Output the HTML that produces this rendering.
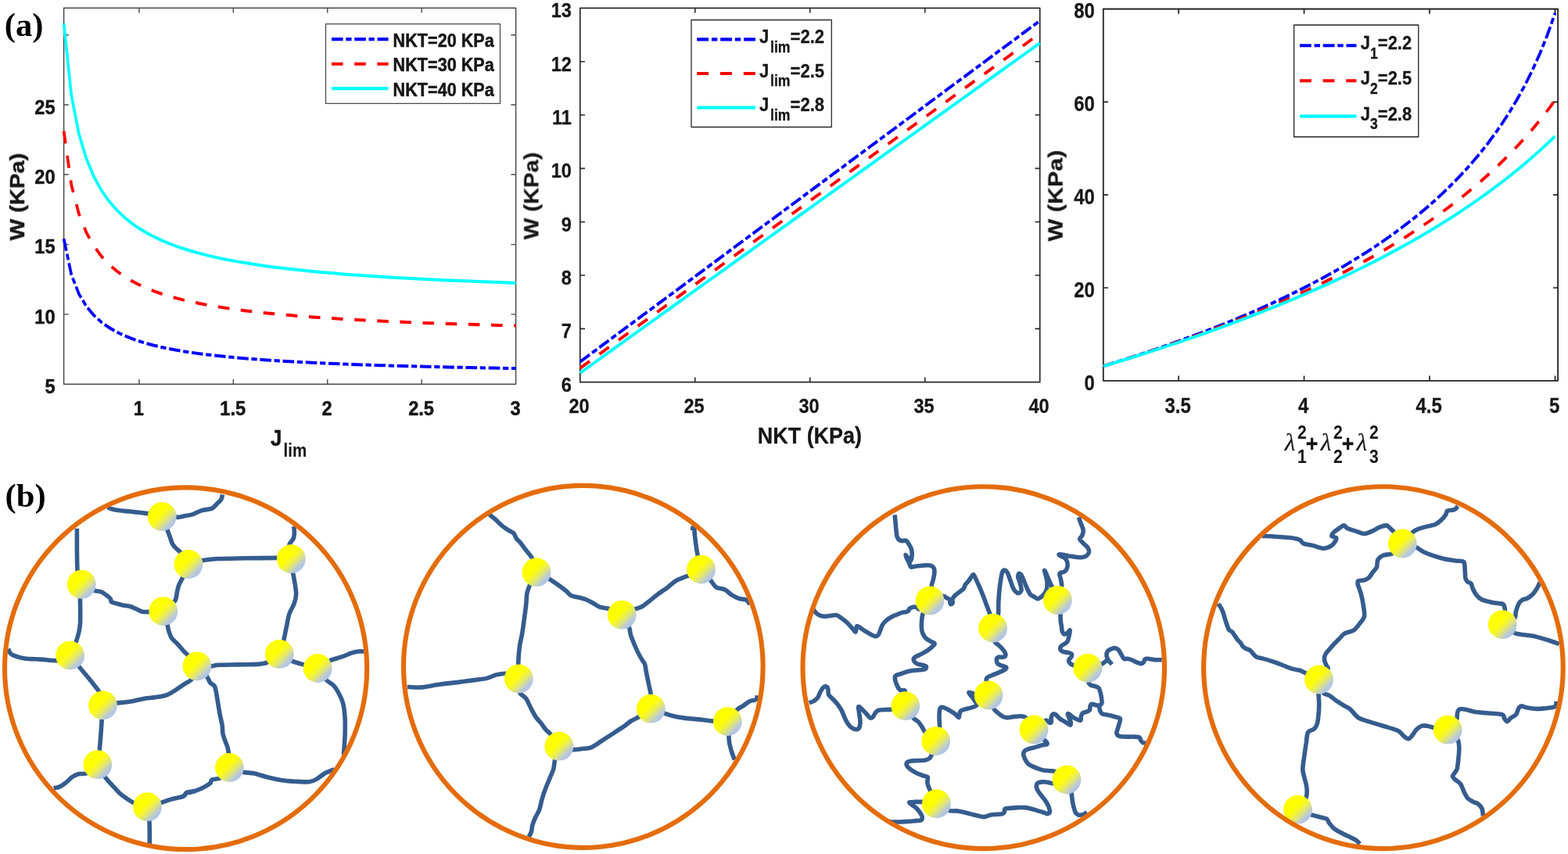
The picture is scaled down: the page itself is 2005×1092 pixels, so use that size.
<!DOCTYPE html>
<html lang="en">
<head>
<meta charset="utf-8">
<title>Gent model strain energy and polymer network schematic</title>
<style>
html,body{margin:0;padding:0;background:#fff;}
body{width:2005px;height:1092px;overflow:hidden;}
svg{display:block;}
</style>
</head>
<body>
<svg width="2005" height="1092" viewBox="0 0 2005 1092">
<defs>
<filter id="soft" x="0" y="0" width="2005" height="1092" filterUnits="userSpaceOnUse" color-interpolation-filters="sRGB"><feGaussianBlur stdDeviation="0.55"/></filter>
<linearGradient id="ball" x1="0" y1="0" x2="1" y2="1">
<stop offset="0" stop-color="#ffff00"/>
<stop offset="0.41" stop-color="#ffff00"/>
<stop offset="0.53" stop-color="#f3f435"/>
<stop offset="0.64" stop-color="#dde280"/>
<stop offset="0.75" stop-color="#bccbd4"/>
<stop offset="0.84" stop-color="#adc2e8"/>
<stop offset="1" stop-color="#a8c0ec"/>
</linearGradient>
</defs>
<rect width="2005" height="1092" fill="#fff"/>
<g filter="url(#soft)">
<g id="plots" font-family='"Liberation Sans", Arial, Helvetica, sans-serif' font-weight="bold" fill="#161616" stroke="#161616" stroke-width="0.5" stroke-linejoin="round">
<g stroke-width="0.5">
<rect x="81.6" y="10.2" width="578" height="481" fill="none" stroke="#4a4a4a" stroke-width="1.5"/>
<path d="M177.93 491.2v-6.2 M177.93 10.2v6.2 M298.35 491.2v-6.2 M298.35 10.2v6.2 M418.77 491.2v-6.2 M418.77 10.2v6.2 M539.18 491.2v-6.2 M539.18 10.2v6.2 M81.6 401.9h6.2 M659.6 401.9h-6.2 M81.6 312.6h6.2 M659.6 312.6h-6.2 M81.6 223.3h6.2 M659.6 223.3h-6.2 M81.6 134h6.2 M659.6 134h-6.2 M81.6 44.7h6.2 M659.6 44.7h-6.2" stroke="#4a4a4a" stroke-width="1.4" fill="none"/>
<text transform="translate(177.33 530.8) scale(0.89 1)" font-size="26.59" text-anchor="middle">1</text>
<text transform="translate(297.75 530.8) scale(0.89 1)" font-size="26.59" text-anchor="middle">1.5</text>
<text transform="translate(418.17 530.8) scale(0.89 1)" font-size="26.59" text-anchor="middle">2</text>
<text transform="translate(538.58 530.8) scale(0.89 1)" font-size="26.59" text-anchor="middle">2.5</text>
<text transform="translate(659 530.8) scale(0.89 1)" font-size="26.59" text-anchor="middle">3</text>
<text transform="translate(70.6 503) scale(0.89 1)" font-size="26.59" text-anchor="end">5</text>
<text transform="translate(70.6 413.7) scale(0.89 1)" font-size="26.59" text-anchor="end">10</text>
<text transform="translate(70.6 324.4) scale(0.89 1)" font-size="26.59" text-anchor="end">15</text>
<text transform="translate(70.6 235.1) scale(0.89 1)" font-size="26.59" text-anchor="end">20</text>
<text transform="translate(70.6 145.8) scale(0.89 1)" font-size="26.59" text-anchor="end">25</text>
<clipPath id="clip81"><rect x="78.6" y="7.2" width="584" height="487"/></clipPath>
<g clip-path="url(#clip81)" fill="none" stroke-width="4.1">
<path transform="scale(0.9 0.98)" d="M90.67 311.51 L101.37 358.24 L112.07 383.43 L122.78 399.82 L133.48 411.54 L144.19 420.41 L154.89 427.41 L165.59 433.09 L176.3 437.8 L187 441.78 L197.7 445.2 L208.41 448.16 L219.11 450.75 L229.81 453.04 L240.52 455.08 L251.22 456.91 L261.93 458.57 L272.63 460.07 L283.33 461.43 L294.04 462.68 L304.74 463.83 L315.44 464.89 L326.15 465.87 L336.85 466.78 L347.56 467.62 L358.26 468.41 L368.96 469.15 L379.67 469.84 L390.37 470.49 L401.07 471.1 L411.78 471.68 L422.48 472.22 L433.19 472.74 L443.89 473.22 L454.59 473.69 L465.3 474.13 L476 474.54 L486.7 474.94 L497.41 475.32 L508.11 475.68 L518.81 476.03 L529.52 476.36 L540.22 476.68 L550.93 476.98 L561.63 477.28 L572.33 477.56 L583.04 477.82 L593.74 478.08 L604.44 478.33 L615.15 478.57 L625.85 478.8 L636.56 479.03 L647.26 479.24 L657.96 479.45 L668.67 479.65 L679.37 479.84 L690.07 480.03 L700.78 480.21 L711.48 480.39 L722.19 480.56 L732.89 480.73" stroke="#0000ff" stroke-dasharray="16.2 4.1 8.1 4.1"/>
<path transform="scale(0.9 0.98)" d="M90.67 171.1 L101.37 241.19 L112.07 278.97 L122.78 303.55 L133.48 321.13 L144.19 334.45 L154.89 344.94 L165.59 353.46 L176.3 360.53 L187 366.5 L197.7 371.62 L208.41 376.06 L219.11 379.95 L229.81 383.39 L240.52 386.45 L251.22 389.2 L261.93 391.68 L272.63 393.92 L283.33 395.97 L294.04 397.85 L304.74 399.57 L315.44 401.16 L326.15 402.63 L336.85 403.99 L347.56 405.26 L358.26 406.44 L368.96 407.55 L379.67 408.59 L390.37 409.56 L401.07 410.48 L411.78 411.34 L422.48 412.16 L433.19 412.93 L443.89 413.66 L454.59 414.36 L465.3 415.02 L476 415.64 L486.7 416.24 L497.41 416.81 L508.11 417.35 L518.81 417.87 L529.52 418.37 L540.22 418.85 L550.93 419.3 L561.63 419.74 L572.33 420.16 L583.04 420.56 L593.74 420.95 L604.44 421.33 L615.15 421.69 L625.85 422.03 L636.56 422.37 L647.26 422.69 L657.96 423 L668.67 423.3 L679.37 423.59 L690.07 423.88 L700.78 424.15 L711.48 424.41 L722.19 424.67 L732.89 424.92" stroke="#ff0000" stroke-dasharray="16.2 16.2"/>
<path transform="scale(0.9 0.98)" d="M90.67 30.68 L101.37 124.14 L112.07 174.51 L122.78 207.29 L133.48 230.72 L144.19 248.48 L154.89 262.47 L165.59 273.83 L176.3 283.26 L187 291.22 L197.7 298.04 L208.41 303.96 L219.11 309.15 L229.81 313.74 L240.52 317.82 L251.22 321.48 L261.93 324.79 L272.63 327.78 L283.33 330.52 L294.04 333.02 L304.74 335.31 L315.44 337.43 L326.15 339.39 L336.85 341.21 L347.56 342.9 L358.26 344.48 L368.96 345.95 L379.67 347.33 L390.37 348.63 L401.07 349.86 L411.78 351.01 L422.48 352.1 L433.19 353.13 L443.89 354.1 L454.59 355.03 L465.3 355.91 L476 356.74 L486.7 357.54 L497.41 358.3 L508.11 359.02 L518.81 359.71 L529.52 360.38 L540.22 361.01 L550.93 361.62 L561.63 362.2 L572.33 362.76 L583.04 363.3 L593.74 363.82 L604.44 364.32 L615.15 364.8 L625.85 365.26 L636.56 365.71 L647.26 366.14 L657.96 366.55 L668.67 366.95 L679.37 367.34 L690.07 367.72 L700.78 368.08 L711.48 368.43 L722.19 368.78 L732.89 369.11" stroke="#00ffff"/>
</g>
<text transform="translate(31 251.7) scale(0.89 1) rotate(-90)" font-size="29.16" text-anchor="middle">W (KPa)</text>
<text transform="translate(346 570.2) scale(0.89 1)" font-size="29.16" text-anchor="start">J<tspan dx="2.4" dy="14.2" font-size="23" stroke-width="0.1">lim</tspan></text>
<rect x="416.5" y="30.6" width="223" height="101.7" fill="#fff" stroke="#4a4a4a" stroke-width="1.3"/>
<path transform="scale(0.9 1)" d="M471.11 50.1H551.78" stroke="#0000ff" stroke-width="4.1" fill="none" stroke-dasharray="16.2 4.1 8.1 4.1"/>
<text transform="translate(502.6 59.9) scale(0.8901 1)" font-size="24.3" text-anchor="start">NKT=20 KPa</text>
<path transform="scale(0.9 1)" d="M471.11 81.7H551.78" stroke="#ff0000" stroke-width="4.1" fill="none" stroke-dasharray="16.2 16.2"/>
<text transform="translate(502.6 91.4) scale(0.8901 1)" font-size="24.3" text-anchor="start">NKT=30 KPa</text>
<path transform="scale(0.9 1)" d="M471.11 113.1H551.78" stroke="#00ffff" stroke-width="4.1" fill="none"/>
<text transform="translate(502.6 123.2) scale(0.8901 1)" font-size="24.3" text-anchor="start">NKT=40 KPa</text>
</g>
<g stroke-width="0.3">
<rect x="741.8" y="10.4" width="587.9" height="478.3" fill="none" stroke="#2a2a2a" stroke-width="1.7"/>
<path d="M888.77 488.7v-6.2 M888.77 10.4v6.2 M1035.75 488.7v-6.2 M1035.75 10.4v6.2 M1182.72 488.7v-6.2 M1182.72 10.4v6.2 M741.8 420.37h6.2 M1329.7 420.37h-6.2 M741.8 352.04h6.2 M1329.7 352.04h-6.2 M741.8 283.71h6.2 M1329.7 283.71h-6.2 M741.8 215.39h6.2 M1329.7 215.39h-6.2 M741.8 147.06h6.2 M1329.7 147.06h-6.2 M741.8 78.73h6.2 M1329.7 78.73h-6.2" stroke="#2a2a2a" stroke-width="1.6" fill="none"/>
<text transform="translate(740.6 528.3) scale(0.885 1)" font-size="26.59" text-anchor="middle">20</text>
<text transform="translate(887.57 528.3) scale(0.885 1)" font-size="26.59" text-anchor="middle">25</text>
<text transform="translate(1034.55 528.3) scale(0.885 1)" font-size="26.59" text-anchor="middle">30</text>
<text transform="translate(1181.52 528.3) scale(0.885 1)" font-size="26.59" text-anchor="middle">35</text>
<text transform="translate(1328.5 528.3) scale(0.885 1)" font-size="26.59" text-anchor="middle">40</text>
<text transform="translate(730.8 500.5) scale(0.885 1)" font-size="26.59" text-anchor="end">6</text>
<text transform="translate(730.8 432.17) scale(0.885 1)" font-size="26.59" text-anchor="end">7</text>
<text transform="translate(730.8 363.84) scale(0.885 1)" font-size="26.59" text-anchor="end">8</text>
<text transform="translate(730.8 295.51) scale(0.885 1)" font-size="26.59" text-anchor="end">9</text>
<text transform="translate(730.8 227.19) scale(0.885 1)" font-size="26.59" text-anchor="end">10</text>
<text transform="translate(730.8 158.86) scale(0.885 1)" font-size="26.59" text-anchor="end">11</text>
<text transform="translate(730.8 90.53) scale(0.885 1)" font-size="26.59" text-anchor="end">12</text>
<text transform="translate(730.8 22.2) scale(0.885 1)" font-size="26.59" text-anchor="end">13</text>
<clipPath id="clip741"><rect x="738.8" y="7.4" width="593.9" height="484.3"/></clipPath>
<g clip-path="url(#clip741)" fill="none" stroke-width="4.1">
<path transform="scale(0.92 0.98)" d="M806.3 472.01 L816.95 464.59 L827.61 457.18 L838.26 449.76 L848.91 442.34 L859.56 434.93 L870.21 427.51 L880.86 420.09 L891.51 412.68 L902.16 405.26 L912.81 397.84 L923.46 390.43 L934.11 383.01 L944.76 375.59 L955.41 368.18 L966.06 360.76 L976.71 353.34 L987.36 345.93 L998.01 338.51 L1008.66 331.09 L1019.31 323.68 L1029.96 316.26 L1040.61 308.84 L1051.26 301.43 L1061.91 294.01 L1072.56 286.59 L1083.21 279.18 L1093.86 271.76 L1104.51 264.34 L1115.16 256.93 L1125.82 249.51 L1136.47 242.09 L1147.12 234.68 L1157.77 227.26 L1168.42 219.84 L1179.07 212.43 L1189.72 205.01 L1200.37 197.59 L1211.02 190.18 L1221.67 182.76 L1232.32 175.34 L1242.97 167.93 L1253.62 160.51 L1264.27 153.09 L1274.92 145.68 L1285.57 138.26 L1296.22 130.84 L1306.87 123.43 L1317.52 116.01 L1328.17 108.59 L1338.82 101.18 L1349.47 93.76 L1360.12 86.34 L1370.77 78.93 L1381.42 71.51 L1392.07 64.09 L1402.72 56.68 L1413.38 49.26 L1424.03 41.84 L1434.68 34.43 L1445.33 27.01" stroke="#0000ff" stroke-dasharray="16.2 4.1 8.1 4.1"/>
<path transform="scale(0.92 0.98)" d="M806.3 480.35 L816.95 473.07 L827.61 465.79 L838.26 458.51 L848.91 451.23 L859.56 443.96 L870.21 436.68 L880.86 429.4 L891.51 422.12 L902.16 414.85 L912.81 407.57 L923.46 400.29 L934.11 393.01 L944.76 385.73 L955.41 378.46 L966.06 371.18 L976.71 363.9 L987.36 356.62 L998.01 349.35 L1008.66 342.07 L1019.31 334.79 L1029.96 327.51 L1040.61 320.23 L1051.26 312.96 L1061.91 305.68 L1072.56 298.4 L1083.21 291.12 L1093.86 283.85 L1104.51 276.57 L1115.16 269.29 L1125.82 262.01 L1136.47 254.73 L1147.12 247.46 L1157.77 240.18 L1168.42 232.9 L1179.07 225.62 L1189.72 218.35 L1200.37 211.07 L1211.02 203.79 L1221.67 196.51 L1232.32 189.23 L1242.97 181.96 L1253.62 174.68 L1264.27 167.4 L1274.92 160.12 L1285.57 152.85 L1296.22 145.57 L1306.87 138.29 L1317.52 131.01 L1328.17 123.73 L1338.82 116.46 L1349.47 109.18 L1360.12 101.9 L1370.77 94.62 L1381.42 87.35 L1392.07 80.07 L1402.72 72.79 L1413.38 65.51 L1424.03 58.23 L1434.68 50.96 L1445.33 43.68" stroke="#ff0000" stroke-dasharray="16.2 16.2"/>
<path transform="scale(0.92 0.98)" d="M806.3 486.6 L816.95 479.43 L827.61 472.26 L838.26 465.08 L848.91 457.91 L859.56 450.74 L870.21 443.56 L880.86 436.39 L891.51 429.22 L902.16 422.04 L912.81 414.87 L923.46 407.69 L934.11 400.52 L944.76 393.35 L955.41 386.17 L966.06 379 L976.71 371.83 L987.36 364.65 L998.01 357.48 L1008.66 350.31 L1019.31 343.13 L1029.96 335.96 L1040.61 328.79 L1051.26 321.61 L1061.91 314.44 L1072.56 307.27 L1083.21 300.09 L1093.86 292.92 L1104.51 285.75 L1115.16 278.57 L1125.82 271.4 L1136.47 264.23 L1147.12 257.05 L1157.77 249.88 L1168.42 242.7 L1179.07 235.53 L1189.72 228.36 L1200.37 221.18 L1211.02 214.01 L1221.67 206.84 L1232.32 199.66 L1242.97 192.49 L1253.62 185.32 L1264.27 178.14 L1274.92 170.97 L1285.57 163.8 L1296.22 156.62 L1306.87 149.45 L1317.52 142.28 L1328.17 135.1 L1338.82 127.93 L1349.47 120.76 L1360.12 113.58 L1370.77 106.41 L1381.42 99.24 L1392.07 92.06 L1402.72 84.89 L1413.38 77.71 L1424.03 70.54 L1434.68 63.37 L1445.33 56.19" stroke="#00ffff"/>
</g>
<text transform="translate(688.2 250.55) scale(0.885 1) rotate(-90)" font-size="29.16" text-anchor="middle">W (KPa)</text>
<text transform="translate(1035.4 566.5) scale(0.9099 1)" font-size="29.6" text-anchor="middle">NKT (KPa)</text>
<rect x="884" y="25.5" width="179.3" height="137" fill="#fff" stroke="#2a2a2a" stroke-width="1.3"/>
<path transform="scale(0.92 1)" d="M968.7 50.4H1050" stroke="#0000ff" stroke-width="4.1" fill="none" stroke-dasharray="16.2 4.1 8.1 4.1"/>
<text transform="translate(971 55) scale(0.9099 1)" font-size="24.3" text-anchor="start">J<tspan dx="1.9" dy="11.8" font-size="19.4">lim</tspan><tspan dy="-11.8">=2.2</tspan></text>
<path transform="scale(0.92 1)" d="M968.7 94H1050" stroke="#ff0000" stroke-width="4.1" fill="none" stroke-dasharray="16.2 16.2"/>
<text transform="translate(971 98.5) scale(0.9099 1)" font-size="24.3" text-anchor="start">J<tspan dx="1.9" dy="11.8" font-size="19.4">lim</tspan><tspan dy="-11.8">=2.5</tspan></text>
<path transform="scale(0.92 1)" d="M968.7 137.6H1050" stroke="#00ffff" stroke-width="4.1" fill="none"/>
<text transform="translate(971 142) scale(0.9099 1)" font-size="24.3" text-anchor="start">J<tspan dx="1.9" dy="11.8" font-size="19.4">lim</tspan><tspan dy="-11.8">=2.8</tspan></text>
</g>
<g stroke-width="0.3">
<rect x="1410.8" y="11.5" width="581.3" height="475.3" fill="none" stroke="#222222" stroke-width="1.8"/>
<path d="M1507.08 486.8v-6.2 M1507.08 11.5v6.2 M1667.55 486.8v-6.2 M1667.55 11.5v6.2 M1828.03 486.8v-6.2 M1828.03 11.5v6.2 M1988.5 486.8v-6.2 M1988.5 11.5v6.2 M1410.8 367.98h6.2 M1992.1 367.98h-6.2 M1410.8 249.15h6.2 M1992.1 249.15h-6.2 M1410.8 130.32h6.2 M1992.1 130.32h-6.2" stroke="#222222" stroke-width="1.7" fill="none"/>
<text transform="translate(1506.18 528) scale(0.86 1)" font-size="27.81" text-anchor="middle">3.5</text>
<text transform="translate(1666.65 528) scale(0.86 1)" font-size="27.81" text-anchor="middle">4</text>
<text transform="translate(1827.13 528) scale(0.86 1)" font-size="27.81" text-anchor="middle">4.5</text>
<text transform="translate(1987.6 528) scale(0.86 1)" font-size="27.81" text-anchor="middle">5</text>
<text transform="translate(1399.8 498.6) scale(0.86 1)" font-size="27.81" text-anchor="end">0</text>
<text transform="translate(1399.8 379.78) scale(0.86 1)" font-size="27.81" text-anchor="end">20</text>
<text transform="translate(1399.8 260.95) scale(0.86 1)" font-size="27.81" text-anchor="end">40</text>
<text transform="translate(1399.8 142.12) scale(0.86 1)" font-size="27.81" text-anchor="end">60</text>
<text transform="translate(1399.8 23.3) scale(0.86 1)" font-size="27.81" text-anchor="end">80</text>
<clipPath id="clip1410"><rect x="1407.8" y="8.5" width="587.3" height="481.3"/></clipPath>
<g clip-path="url(#clip1410)" fill="none" stroke-width="4.1">
<path transform="scale(0.915 0.98)" d="M1541.86 477.67 L1552.38 474.64 L1562.9 471.57 L1573.43 468.46 L1583.95 465.29 L1594.47 462.07 L1604.99 458.8 L1615.52 455.47 L1626.04 452.09 L1636.56 448.65 L1647.09 445.15 L1657.61 441.59 L1668.13 437.96 L1678.65 434.27 L1689.18 430.51 L1699.7 426.67 L1710.22 422.76 L1720.74 418.77 L1731.27 414.7 L1741.79 410.55 L1752.31 406.31 L1762.84 401.98 L1773.36 397.55 L1783.88 393.02 L1794.4 388.38 L1804.93 383.64 L1815.45 378.78 L1825.97 373.8 L1836.49 368.69 L1847.02 363.45 L1857.54 358.06 L1868.06 352.53 L1878.59 346.84 L1889.11 340.98 L1899.63 334.95 L1910.15 328.73 L1920.68 322.31 L1931.2 315.68 L1941.72 308.82 L1952.24 301.72 L1962.77 294.35 L1973.29 286.7 L1983.81 278.75 L1994.34 270.47 L2004.86 261.84 L2015.38 252.81 L2025.9 243.36 L2036.43 233.43 L2046.95 222.99 L2057.47 211.98 L2067.99 200.32 L2078.52 187.94 L2089.04 174.75 L2099.56 160.62 L2110.09 145.42 L2120.61 128.96 L2131.13 111.04 L2141.65 91.34 L2152.18 69.5 L2162.7 44.97 L2173.22 17.01" stroke="#0000ff" stroke-dasharray="16.2 4.1 8.1 4.1"/>
<path transform="scale(0.915 0.98)" d="M1541.86 477.78 L1552.38 474.79 L1562.9 471.77 L1573.43 468.7 L1583.95 465.6 L1594.47 462.45 L1604.99 459.25 L1615.52 456.01 L1626.04 452.72 L1636.56 449.39 L1647.09 446 L1657.61 442.57 L1668.13 439.08 L1678.65 435.54 L1689.18 431.94 L1699.7 428.28 L1710.22 424.56 L1720.74 420.78 L1731.27 416.94 L1741.79 413.03 L1752.31 409.06 L1762.84 405.01 L1773.36 400.89 L1783.88 396.69 L1794.4 392.41 L1804.93 388.06 L1815.45 383.61 L1825.97 379.08 L1836.49 374.46 L1847.02 369.74 L1857.54 364.92 L1868.06 359.99 L1878.59 354.96 L1889.11 349.81 L1899.63 344.54 L1910.15 339.15 L1920.68 333.63 L1931.2 327.97 L1941.72 322.16 L1952.24 316.21 L1962.77 310.09 L1973.29 303.8 L1983.81 297.34 L1994.34 290.68 L2004.86 283.83 L2015.38 276.76 L2025.9 269.47 L2036.43 261.93 L2046.95 254.13 L2057.47 246.06 L2067.99 237.69 L2078.52 229 L2089.04 219.97 L2099.56 210.56 L2110.09 200.74 L2120.61 190.49 L2131.13 179.74 L2141.65 168.47 L2152.18 156.6 L2162.7 144.09 L2173.22 130.84" stroke="#ff0000" stroke-dasharray="16.2 16.2"/>
<path transform="scale(0.915 0.98)" d="M1541.86 477.86 L1552.38 474.91 L1562.9 471.92 L1573.43 468.89 L1583.95 465.83 L1594.47 462.73 L1604.99 459.6 L1615.52 456.42 L1626.04 453.2 L1636.56 449.95 L1647.09 446.65 L1657.61 443.3 L1668.13 439.92 L1678.65 436.48 L1689.18 433 L1699.7 429.48 L1710.22 425.9 L1720.74 422.27 L1731.27 418.59 L1741.79 414.85 L1752.31 411.06 L1762.84 407.21 L1773.36 403.3 L1783.88 399.34 L1794.4 395.31 L1804.93 391.21 L1815.45 387.05 L1825.97 382.81 L1836.49 378.51 L1847.02 374.13 L1857.54 369.68 L1868.06 365.15 L1878.59 360.53 L1889.11 355.83 L1899.63 351.04 L1910.15 346.16 L1920.68 341.18 L1931.2 336.11 L1941.72 330.93 L1952.24 325.64 L1962.77 320.24 L1973.29 314.73 L1983.81 309.09 L1994.34 303.32 L2004.86 297.42 L2015.38 291.39 L2025.9 285.2 L2036.43 278.86 L2046.95 272.36 L2057.47 265.69 L2067.99 258.84 L2078.52 251.8 L2089.04 244.55 L2099.56 237.1 L2110.09 229.42 L2120.61 221.51 L2131.13 213.34 L2141.65 204.9 L2152.18 196.16 L2162.7 187.12 L2173.22 177.75" stroke="#00ffff"/>
</g>
<text transform="translate(1358.5 250.15) scale(0.86 1) rotate(-90)" font-size="30.49" text-anchor="middle">W (KPa)</text>
<text transform="translate(1642.7 576.4) scale(1.02 1)" font-family='"Liberation Serif", "Times New Roman", serif' font-style="italic" font-weight="normal" font-size="31" stroke-width="0.15">λ</text>
<text transform="translate(1659 561.2) scale(0.9049 1)" font-size="23.4" text-anchor="start" stroke-width="0">2</text>
<text transform="translate(1659 592) scale(0.9049 1)" font-size="23.4" text-anchor="start" stroke-width="0">1</text>
<text transform="translate(1669.8 576.6) scale(0.9049 1)" font-size="29.6" text-anchor="start">+</text>
<text transform="translate(1688.7 576.4) scale(1.02 1)" font-family='"Liberation Serif", "Times New Roman", serif' font-style="italic" font-weight="normal" font-size="31" stroke-width="0.15">λ</text>
<text transform="translate(1705 561.2) scale(0.9049 1)" font-size="23.4" text-anchor="start" stroke-width="0">2</text>
<text transform="translate(1705 592) scale(0.9049 1)" font-size="23.4" text-anchor="start" stroke-width="0">2</text>
<text transform="translate(1715.8 576.6) scale(0.9049 1)" font-size="29.6" text-anchor="start">+</text>
<text transform="translate(1734.6 576.4) scale(1.02 1)" font-family='"Liberation Serif", "Times New Roman", serif' font-style="italic" font-weight="normal" font-size="31" stroke-width="0.15">λ</text>
<text transform="translate(1750.9 561.2) scale(0.9049 1)" font-size="23.4" text-anchor="start" stroke-width="0">2</text>
<text transform="translate(1750.9 592) scale(0.9049 1)" font-size="23.4" text-anchor="start" stroke-width="0">3</text>
<rect x="1654.6" y="32" width="159.2" height="143" fill="#fff" stroke="#222222" stroke-width="1.3"/>
<path transform="scale(0.915 1)" d="M1816.39 58.2H1895.63" stroke="#0000ff" stroke-width="4.1" fill="none" stroke-dasharray="16.2 4.1 8.1 4.1"/>
<text transform="translate(1739.8 62.9) scale(0.9049 1)" font-size="24.3" text-anchor="start">J<tspan dy="11.8" font-size="19.4">1</tspan><tspan dy="-11.8">=2.2</tspan></text>
<path transform="scale(0.915 1)" d="M1816.39 103.3H1895.63" stroke="#ff0000" stroke-width="4.1" fill="none" stroke-dasharray="16.2 16.2"/>
<text transform="translate(1739.8 108.2) scale(0.9049 1)" font-size="24.3" text-anchor="start">J<tspan dy="11.8" font-size="19.4">2</tspan><tspan dy="-11.8">=2.5</tspan></text>
<path transform="scale(0.915 1)" d="M1816.39 148.6H1895.63" stroke="#00ffff" stroke-width="4.1" fill="none"/>
<text transform="translate(1739.8 153.5) scale(0.9049 1)" font-size="24.3" text-anchor="start">J<tspan dy="11.8" font-size="19.4">3</tspan><tspan dy="-11.8">=2.8</tspan></text>
</g>
</g>
<g font-family='"Liberation Serif", "Times New Roman", serif' font-weight="bold" font-size="42.6" fill="#000">
<text x="5.8" y="46.4">(a)</text>
<text x="6.6" y="648.4">(b)</text>
</g>
<g id="networks">
<g fill="none" stroke="#355c8e" stroke-width="5.6" stroke-linejoin="round" stroke-linecap="butt">
<path d="M139.6 647.8C139.6 648.1 138.6 649.1 139.6 649.6C140.7 650.2 143.7 651.1 146.4 651.7C149.1 652.2 153.9 652.8 157.7 653.2C161.4 653.7 166.5 654.1 171.2 654.6C175.8 655.1 184.7 656.1 188.7 656.6C192.8 657.2 196.6 658.1 198.0 658.3"/>
<path d="M216.6 660.6C218.3 660.7 225.5 661.4 228.2 661.4C231.0 661.3 232.1 660.6 235.0 660.0C237.9 659.4 244.0 658.4 247.4 657.3C250.8 656.2 254.0 653.9 257.5 652.8C261.1 651.7 268.0 651.4 271.0 650.1C274.1 648.7 276.0 645.5 277.8 643.8C279.5 642.1 281.7 640.5 282.7 638.8C283.8 637.1 284.3 633.5 284.5 632.5"/>
<path d="M210.6 668.8C211.1 670.1 212.9 674.9 214.0 677.6C215.0 680.2 216.5 684.2 217.3 686.6C218.2 688.9 218.8 691.5 219.6 693.3C220.4 695.2 221.3 697.0 223.0 699.0C224.7 700.9 229.0 704.2 230.9 706.4C232.8 708.5 234.9 712.2 235.6 713.3"/>
<path d="M98.4 675.8C98.4 679.4 98.4 693.7 98.4 700.1C98.5 706.4 98.5 713.7 98.6 718.1C98.8 722.5 98.7 726.4 99.1 729.4C99.5 732.3 101.2 736.4 101.5 737.7"/>
<path d="M112.6 750.8C114.0 751.5 119.1 754.4 121.6 755.3C124.2 756.2 127.1 755.8 129.5 756.8C131.9 757.9 135.6 760.7 137.4 762.0C139.2 763.4 140.7 764.7 141.4 765.9C142.2 767.0 141.3 768.6 142.3 769.5C143.4 770.3 146.4 771.0 148.6 771.7C150.9 772.4 155.0 773.4 157.7 774.0C160.4 774.5 164.0 774.7 166.7 775.5C169.4 776.4 173.3 778.4 175.7 779.4C178.0 780.4 180.1 781.9 182.4 782.3C184.8 782.7 188.9 782.4 191.4 782.3C194.0 782.2 198.2 781.8 199.4 781.7"/>
<path d="M237.3 729.6C236.7 731.1 234.4 736.7 233.1 739.5C231.8 742.3 229.6 745.8 228.6 748.5C227.6 751.2 227.0 754.7 226.4 757.5C225.7 760.4 225.7 765.1 224.1 767.7C222.5 770.3 217.1 773.8 215.9 774.9"/>
<path d="M103.3 756.1C103.2 757.5 102.6 761.6 102.5 765.4C102.4 769.2 102.7 776.4 102.7 781.2C102.7 785.9 102.7 792.9 102.5 796.9C102.2 801.0 101.7 804.7 100.9 808.2C100.1 811.7 98.4 817.5 97.3 820.6C96.2 823.7 94.0 827.8 93.5 829.0"/>
<path d="M211.4 790.1C211.8 791.5 213.2 796.5 214.0 799.2C214.7 801.9 215.4 805.7 216.2 808.2C217.1 810.7 217.9 813.7 219.6 816.1C221.3 818.4 225.3 821.6 227.5 824.0C229.7 826.3 232.4 829.8 234.2 831.8C236.1 833.9 238.1 835.6 239.9 837.5C241.6 839.3 244.8 843.2 245.7 844.2"/>
<path d="M10.8 829.6C11.0 830.3 11.5 832.8 12.4 834.1C13.3 835.3 14.0 836.7 16.9 837.9C19.8 839.1 26.3 841.2 31.5 842.0C36.8 842.8 45.7 842.7 51.8 843.1C57.9 843.5 67.7 845.0 72.1 844.7C76.4 844.4 79.6 841.7 80.9 841.1"/>
<path d="M250.1 718.7C251.4 718.4 254.5 717.2 258.6 716.5C262.8 715.9 269.5 714.9 277.8 714.5C286.1 714.1 302.3 714.0 313.8 713.8C325.3 713.7 347.0 713.4 354.4 713.4C361.7 713.4 361.6 713.7 362.9 713.8"/>
<path d="M375.8 673.1C375.9 674.4 376.5 679.7 376.4 682.1C376.3 684.4 376.0 686.7 375.1 688.8C374.1 690.9 370.7 693.6 370.1 696.0C369.5 698.4 371.0 703.5 371.2 704.9"/>
<path d="M373.5 723.5C373.7 724.9 374.1 729.5 374.6 732.7C375.2 736.0 376.3 741.1 376.9 745.1C377.5 749.2 378.8 755.9 378.7 759.8C378.6 763.7 377.7 767.3 376.4 771.0C375.2 774.8 371.6 780.3 370.1 784.5C368.7 788.8 367.8 794.1 366.8 799.2C365.7 804.3 363.9 814.2 362.9 818.3C361.9 822.5 360.6 825.7 360.2 826.9"/>
<path d="M261.3 851.6C262.6 851.7 267.1 852.1 269.9 851.9C272.7 851.7 275.1 850.6 280.0 850.3C284.9 850.0 295.1 850.0 302.6 849.9C310.0 849.7 323.9 849.8 329.6 849.4C335.3 849.0 337.9 848.6 340.9 847.4C343.9 846.2 348.3 842.2 349.6 841.3"/>
<path d="M365.4 840.6C366.6 841.3 370.1 844.0 373.5 845.4C376.9 846.7 384.6 848.9 388.2 849.9C391.7 850.8 395.7 851.6 397.0 851.9"/>
<path d="M414.3 849.3C415.6 848.5 419.6 845.7 423.1 844.2C426.6 842.8 433.8 841.1 437.7 839.7C441.6 838.4 445.9 836.2 449.0 835.2C452.0 834.2 455.5 833.3 458.0 833.0C460.4 832.6 464.1 833.0 465.2 833.0"/>
<path d="M95.4 845.0C96.3 846.2 98.8 849.6 101.4 852.8C103.9 855.9 109.6 862.6 112.6 866.3C115.7 870.0 119.5 874.8 121.6 877.5C123.7 880.2 125.5 882.1 126.6 884.3C127.7 886.5 128.5 891.1 128.9 892.3"/>
<path d="M140.8 900.1C142.3 900.0 146.2 899.4 150.5 898.9C154.7 898.4 163.8 897.5 168.9 896.7C174.1 895.8 179.6 894.1 184.7 893.3C189.8 892.5 198.3 891.8 202.7 891.0C207.1 890.3 210.6 889.7 214.0 888.3C217.3 887.0 221.8 884.2 225.2 882.0C228.6 879.9 233.6 876.1 236.5 874.2C239.4 872.2 242.6 871.3 244.4 869.2C246.1 867.1 247.7 861.3 248.3 860.0"/>
<path d="M130.8 910.7C130.7 912.1 130.5 915.8 130.2 920.3C129.9 924.8 129.3 934.9 128.8 940.6C128.4 946.3 127.7 954.5 127.3 958.6C126.8 962.7 126.3 966.5 126.1 967.9"/>
<path d="M68.7 1007.7C69.7 1007.5 73.3 1007.3 75.5 1006.4C77.6 1005.4 80.8 1003.3 83.3 1001.4C85.9 999.5 89.8 995.3 92.3 993.5C94.9 991.8 97.5 990.4 100.2 989.7C102.9 989.0 107.8 990.0 110.4 989.0C113.0 988.0 116.5 984.0 117.6 983.1"/>
<path d="M129.7 985.3C130.5 986.7 133.0 991.7 135.1 994.6C137.3 997.6 141.4 1001.8 144.1 1004.8C146.8 1007.8 150.5 1012.0 153.2 1014.5C155.9 1016.9 159.5 1019.4 162.2 1021.2C164.9 1023.0 168.6 1025.5 171.2 1026.6C173.8 1027.8 178.2 1028.5 179.4 1028.8"/>
<path d="M197.6 1028.7C198.9 1028.3 203.6 1027.2 206.8 1026.2C209.9 1025.2 214.3 1023.3 218.5 1022.1C222.6 1020.9 231.3 1019.5 234.2 1018.3C237.2 1017.0 237.1 1014.6 238.3 1013.8C239.5 1012.9 240.4 1013.0 242.1 1012.7C243.9 1012.3 248.8 1011.7 250.0 1011.5"/>
<path d="M189.7 1040.5C189.9 1041.9 190.7 1044.0 191.0 1049.8C191.2 1055.6 191.4 1074.7 191.4 1079.1"/>
<path d="M258.2 858.3C259.3 859.5 263.8 864.1 265.4 866.3C267.0 868.5 267.4 871.3 268.8 873.0C270.1 874.7 273.2 875.5 274.4 877.5C275.6 879.6 276.0 883.2 276.7 886.5C277.3 889.9 278.2 896.0 278.9 900.1C279.6 904.1 280.4 909.5 281.2 913.6C281.9 917.6 283.5 923.4 284.1 927.1C284.7 930.8 284.4 935.3 285.0 938.3C285.6 941.4 287.0 944.8 287.9 947.4C288.8 949.9 290.2 952.9 290.9 955.2C291.5 957.6 292.1 960.7 292.4 963.1C292.7 965.6 292.8 970.3 292.9 971.6"/>
<path d="M235.0 1018.3C235.5 1017.6 237.0 1014.6 238.4 1013.8C239.7 1013.0 241.1 1014.0 244.0 1013.1C246.9 1012.3 253.8 1009.9 257.5 1008.2C261.2 1006.4 266.8 1003.1 268.8 1001.4C270.8 999.7 269.2 997.8 271.0 996.9C272.9 996.0 278.7 996.4 281.2 995.1C283.6 993.8 286.3 989.2 287.2 988.1"/>
<path d="M302.3 984.1C303.7 984.6 308.2 986.7 311.6 987.4C315.0 988.2 320.7 988.1 325.1 989.0C329.5 989.9 335.8 992.3 340.9 993.5C345.9 994.8 353.5 996.5 358.9 997.4C364.3 998.2 371.5 998.8 376.9 999.2C382.3 999.5 390.9 1000.2 394.9 999.8C399.0 999.5 400.9 998.5 403.9 996.9C407.0 995.3 411.6 991.0 415.2 989.0C418.7 987.1 425.7 984.6 427.6 983.8"/>
<path d="M411.7 861.6C412.5 862.8 415.2 867.4 417.4 869.6C419.6 871.9 424.1 873.9 426.4 876.4C428.8 878.9 431.3 883.0 433.2 886.5C435.1 890.1 437.6 895.3 438.8 900.1C440.0 904.8 440.7 912.0 441.1 918.1C441.4 924.2 441.3 933.5 441.1 940.6C440.8 947.7 439.7 961.7 439.5 965.4"/>
<path d="M625.5 657.7C626.7 658.7 630.8 661.8 633.4 664.1C635.9 666.3 639.7 670.4 642.4 672.6C645.1 674.8 649.2 677.3 651.4 678.7C653.6 680.1 655.7 680.6 657.0 682.1C658.4 683.6 659.2 687.1 660.4 688.8C661.6 690.5 663.2 691.3 664.9 693.3C666.6 695.4 669.3 699.2 671.7 702.3C674.0 705.5 679.0 711.1 680.7 714.1C682.4 717.0 682.8 721.0 683.2 722.2"/>
<path d="M694.1 735.8C695.3 736.4 699.4 738.5 702.1 740.2C704.8 741.9 709.0 744.7 712.2 746.9C715.4 749.2 720.8 753.1 723.5 755.3C726.2 757.4 727.5 760.0 730.2 761.4C732.9 762.7 738.7 763.5 741.5 764.3C744.3 765.1 746.5 765.5 749.0 766.5C751.5 767.5 755.3 769.6 758.0 771.0C760.7 772.5 764.0 775.1 767.0 776.2C770.1 777.3 775.4 777.4 778.3 778.2C781.2 779.1 785.4 781.4 786.6 781.9"/>
<path d="M681.7 739.6C681.1 741.0 678.5 745.7 677.3 748.5C676.1 751.4 674.6 755.1 673.9 758.6C673.2 762.2 673.3 767.4 672.8 772.2C672.3 776.9 671.3 784.4 670.5 790.2C669.8 795.9 668.5 805.0 667.6 810.5C666.7 815.9 665.2 820.5 664.5 826.2C663.7 832.0 662.9 844.0 662.7 848.7C662.4 853.5 662.9 856.6 663.0 858.0"/>
<path d="M803.9 782.2C805.1 781.7 809.5 779.9 812.1 778.9C814.6 777.9 818.4 777.1 821.1 775.5C823.8 774.0 827.0 771.1 830.1 768.8C833.1 766.4 838.0 762.3 841.4 759.8C844.7 757.2 849.2 754.4 852.6 751.9C856.0 749.4 860.8 744.8 863.9 742.9C866.9 740.9 870.2 739.9 872.9 738.8C875.5 737.7 879.1 736.7 881.4 735.7C883.7 734.7 887.2 732.6 888.2 732.0"/>
<path d="M894.3 718.5C894.0 717.1 892.7 712.5 892.0 709.1C891.3 705.7 890.3 699.6 889.8 695.6C889.2 691.5 888.5 685.0 888.2 682.1C887.9 679.1 888.3 676.8 887.5 675.8C886.7 674.8 883.7 675.4 883.0 675.3"/>
<path d="M902.5 734.8C903.5 736.0 906.9 740.0 908.9 742.4C910.9 744.8 913.0 749.0 915.7 750.8C918.4 752.5 923.9 752.6 926.9 754.1C930.0 755.7 933.2 759.2 935.9 760.9C938.6 762.6 942.3 764.5 945.0 765.4C947.7 766.3 951.9 765.9 954.0 767.0C956.1 768.1 958.2 771.8 958.9 772.6"/>
<path d="M799.8 793.9C800.5 795.2 803.6 799.7 804.6 802.4C805.6 805.2 805.6 808.9 806.5 812.1C807.5 815.2 809.6 820.1 811.0 823.6C812.5 827.1 814.6 832.1 816.2 835.1C817.7 838.2 820.0 842.0 821.3 844.1C822.5 846.2 823.7 846.9 824.5 849.2C825.3 851.5 825.7 856.0 826.4 859.5C827.1 862.9 828.1 868.1 829.0 872.3C829.8 876.5 831.7 884.1 832.2 887.7C832.7 891.3 832.2 895.0 832.2 896.3"/>
<path d="M520.8 878.2C523.5 878.3 532.7 879.3 538.8 878.9C544.9 878.4 554.5 876.2 561.3 875.3C568.1 874.3 577.1 873.4 583.8 872.6C590.6 871.7 600.6 870.4 606.4 869.6C612.1 868.9 617.9 868.4 622.1 867.4C626.3 866.4 630.9 863.8 634.5 862.9C638.2 862.0 643.4 861.1 646.4 861.3C649.4 861.5 653.3 863.8 654.5 864.2"/>
<path d="M664.1 876.8C664.2 878.2 663.6 883.6 664.9 886.1C666.2 888.6 670.8 890.5 672.8 893.3C674.8 896.1 676.6 901.0 678.4 904.6C680.3 908.1 683.2 913.9 685.2 916.9C687.2 920.0 690.1 922.5 691.9 924.8C693.8 927.2 695.8 930.7 697.6 932.7C699.3 934.7 701.9 936.3 703.6 938.3C705.4 940.4 708.5 945.0 709.3 946.1"/>
<path d="M712.3 962.7C711.8 964.1 710.2 969.0 709.5 972.1C708.8 975.2 708.6 980.0 707.7 983.4C706.8 986.8 704.7 990.9 703.2 994.6C701.7 998.4 699.1 1004.1 697.6 1008.2C696.0 1012.2 694.2 1017.6 693.1 1021.7C691.9 1025.7 691.0 1031.5 689.7 1035.2C688.3 1038.9 685.4 1043.4 684.1 1046.5C682.7 1049.5 681.4 1052.9 680.7 1055.5C680.0 1058.0 680.2 1061.1 679.5 1063.3C678.9 1065.5 676.7 1069.1 676.2 1070.1"/>
<path d="M724.0 956.2C725.2 956.6 729.5 958.4 732.5 958.6C735.4 958.8 740.2 957.9 743.7 957.5C747.2 957.1 751.9 957.4 755.8 955.9C759.6 954.4 764.9 950.2 769.3 947.4C773.7 944.5 780.7 940.1 785.0 937.2C789.4 934.3 795.2 930.6 798.6 928.2C801.9 925.8 804.7 923.2 807.6 921.5C810.4 919.7 815.1 917.8 817.7 916.3C820.3 914.7 823.6 912.0 824.7 911.2"/>
<path d="M841.1 909.0C842.5 909.5 847.3 911.4 850.4 912.4C853.4 913.5 857.9 915.0 861.6 915.8C865.3 916.7 870.4 917.5 875.1 918.1C879.9 918.7 887.6 919.3 893.2 919.9C898.7 920.5 908.1 921.8 912.3 922.1C916.5 922.5 919.6 922.1 920.9 922.1"/>
<path d="M936.3 914.9C937.3 913.7 940.6 909.1 942.7 907.3C944.8 905.4 948.2 903.9 950.6 902.3C953.0 900.7 956.3 897.8 958.5 896.7C960.7 895.6 963.8 895.6 965.2 895.1C966.6 894.6 967.5 894.2 967.9 893.3C968.3 892.4 967.9 889.9 967.9 889.2"/>
<path d="M931.1 931.5C931.2 932.8 931.7 937.9 931.9 940.6C932.1 943.3 932.0 946.6 932.6 949.6C933.1 952.6 934.5 957.6 935.5 960.9C936.5 964.2 938.8 970.1 939.3 971.7"/>
<path d="M1614.0 685.5C1615.8 685.5 1622.1 685.4 1626.4 685.7C1630.6 685.9 1637.7 686.6 1642.1 687.0C1646.5 687.4 1652.6 687.8 1655.6 688.4C1658.7 688.9 1660.7 689.6 1662.4 690.6C1664.1 691.6 1664.5 694.1 1666.9 695.1C1669.3 696.1 1674.4 696.5 1678.2 697.4C1681.9 698.3 1688.1 701.1 1691.7 701.2C1695.2 701.4 1699.4 699.6 1701.8 698.3C1704.2 696.9 1706.4 693.8 1707.4 692.2C1708.4 690.6 1709.2 688.7 1708.6 687.7C1707.9 686.7 1703.4 686.5 1702.9 685.5C1702.4 684.4 1703.8 682.4 1705.2 680.9C1706.5 679.5 1709.9 677.1 1711.9 675.8C1714.0 674.4 1717.0 671.9 1718.7 671.9C1720.4 671.9 1720.8 674.7 1723.2 675.8C1725.6 676.9 1731.2 678.4 1734.5 679.4C1737.7 680.4 1741.2 682.7 1744.6 682.5C1748.0 682.3 1754.1 679.3 1757.0 678.0C1759.9 676.8 1761.6 675.1 1764.0 674.2C1766.4 673.3 1771.0 671.8 1773.0 671.9C1775.0 672.1 1776.2 674.1 1777.5 675.3C1778.9 676.5 1780.5 678.1 1782.0 679.8C1783.5 681.6 1786.7 686.0 1787.6 687.0"/>
<path d="M1786.6 701.1C1785.6 702.2 1782.5 706.6 1779.8 708.0C1777.1 709.3 1771.2 709.0 1768.5 710.2C1765.8 711.4 1762.9 713.7 1761.8 715.9C1760.6 718.1 1761.3 722.8 1760.6 724.9C1760.0 726.9 1758.1 728.2 1757.3 729.4C1756.4 730.6 1755.8 731.3 1754.7 732.7C1753.7 734.2 1751.7 737.5 1750.2 738.8C1748.7 740.2 1746.6 741.1 1744.6 741.8C1742.6 742.4 1738.0 742.0 1736.7 742.9C1735.5 743.7 1735.8 745.0 1736.3 747.4C1736.8 749.8 1739.1 754.9 1740.1 758.6C1741.1 762.4 1742.3 767.8 1743.0 772.2C1743.7 776.6 1745.2 784.2 1744.6 787.9C1744.0 791.6 1741.0 794.2 1739.0 796.9C1736.9 799.6 1734.0 804.0 1731.1 805.9C1728.1 807.9 1721.9 808.5 1719.2 810.1C1716.4 811.7 1714.7 814.6 1712.8 816.5C1710.9 818.4 1708.3 820.8 1706.4 822.9C1704.5 825.0 1701.6 828.3 1700.0 830.2C1698.3 832.1 1696.3 834.2 1695.4 835.7C1694.4 837.2 1693.8 838.8 1693.6 840.3C1693.3 841.8 1693.6 844.1 1694.0 845.8C1694.4 847.4 1695.7 849.9 1696.3 851.3C1696.9 852.7 1698.7 853.4 1698.1 854.9C1697.6 856.5 1693.4 860.4 1692.6 861.4"/>
<path d="M1557.7 772.2C1558.2 772.8 1560.1 775.1 1561.0 776.7C1561.9 778.2 1562.9 779.9 1563.7 782.3C1564.6 784.7 1565.6 789.1 1566.7 792.4C1567.8 795.8 1569.8 802.5 1571.2 804.8C1572.5 807.2 1573.9 806.2 1575.7 808.2C1577.4 810.2 1581.1 816.2 1582.7 818.3C1584.4 820.4 1585.4 820.7 1586.4 822.0C1587.4 823.2 1588.2 825.5 1589.2 826.6C1590.1 827.7 1591.5 828.6 1592.8 829.3C1594.1 830.0 1596.6 830.4 1597.9 831.1C1599.1 831.9 1600.2 833.4 1601.1 834.3C1602.0 835.3 1602.8 836.7 1603.8 837.5C1604.8 838.4 1605.5 839.5 1607.5 840.3C1609.4 841.0 1613.9 841.8 1616.6 842.6C1619.4 843.3 1623.0 844.4 1625.8 845.3C1628.5 846.2 1632.2 847.5 1634.9 848.5C1637.7 849.6 1641.4 851.2 1644.1 852.2C1646.8 853.2 1650.5 854.6 1653.3 855.4C1656.0 856.2 1660.4 856.6 1662.4 857.2C1664.5 857.9 1665.8 859.0 1667.0 859.5C1668.2 860.1 1668.6 860.1 1670.2 860.9C1671.8 861.6 1676.8 864.0 1678.0 864.5"/>
<path d="M1799.8 687.7C1800.8 686.6 1804.7 682.0 1806.8 680.3C1808.9 678.6 1810.9 677.5 1813.6 676.4C1816.3 675.4 1821.6 673.9 1824.8 673.1C1828.0 672.2 1832.3 672.0 1835.0 670.8C1837.7 669.6 1840.8 667.0 1842.8 665.2C1844.9 663.3 1847.3 660.2 1848.5 658.4C1849.7 656.6 1849.5 654.2 1850.7 653.2C1851.9 652.3 1854.8 652.7 1856.4 652.3C1857.9 652.0 1859.7 651.8 1860.9 651.0C1862.0 650.2 1863.7 647.7 1864.2 647.2"/>
<path d="M1802.3 697.3C1803.6 697.7 1808.6 698.8 1811.3 700.1C1814.0 701.4 1816.9 704.1 1820.3 705.7C1823.7 707.3 1829.8 709.5 1833.8 710.9C1837.9 712.3 1843.3 713.8 1847.3 714.7C1851.4 715.6 1857.2 716.4 1860.9 717.0C1864.5 717.6 1869.8 716.7 1871.7 718.6C1873.5 720.4 1872.9 726.2 1873.2 729.4C1873.6 732.5 1873.4 737.3 1873.9 739.5C1874.4 741.7 1875.5 743.0 1876.6 744.0C1877.7 745.0 1880.1 744.9 1881.1 746.3C1882.1 747.6 1882.4 750.8 1883.4 753.0C1884.4 755.2 1886.2 758.9 1887.9 760.9C1889.6 762.9 1891.9 765.2 1894.6 766.5C1897.3 767.9 1902.5 769.1 1905.9 769.9C1909.3 770.7 1914.7 771.3 1917.2 771.7C1919.6 772.1 1921.0 771.4 1922.1 772.6C1923.2 773.9 1924.3 777.6 1924.4 780.0C1924.5 782.5 1923.1 787.5 1922.8 788.8"/>
<path d="M1929.6 793.9C1930.7 793.3 1935.6 792.1 1937.0 790.2C1938.3 788.3 1937.8 783.9 1938.6 781.2C1939.3 778.5 1940.8 774.3 1941.9 772.2C1943.1 770.1 1944.8 768.3 1946.4 767.2C1948.1 766.1 1951.2 766.1 1953.2 765.0C1955.2 763.8 1958.1 761.7 1960.0 759.8C1961.8 757.8 1964.2 754.2 1965.6 751.9C1966.9 749.6 1968.5 745.8 1969.0 744.7"/>
<path d="M1928.7 803.7C1929.9 804.5 1933.7 808.1 1936.3 809.3C1939.0 810.5 1942.9 811.0 1946.4 811.6C1950.0 812.2 1956.2 812.5 1960.0 813.2C1963.7 813.8 1967.8 815.1 1971.2 816.1C1974.6 817.0 1979.1 818.3 1982.5 819.5C1985.9 820.6 1992.0 822.9 1993.7 823.5"/>
<path d="M1686.3 877.9C1686.2 879.4 1686.0 884.3 1686.0 887.7C1686.1 891.0 1686.7 896.2 1686.7 900.1C1686.7 903.9 1686.4 909.9 1686.0 913.6C1685.7 917.3 1685.3 922.1 1684.5 924.8C1683.6 927.6 1682.2 930.3 1680.4 932.0C1678.6 933.8 1674.0 933.9 1672.5 936.5C1671.0 939.2 1670.9 945.3 1670.3 949.6C1669.6 953.9 1668.7 960.3 1668.0 965.4C1667.3 970.4 1665.8 979.0 1665.8 983.4C1665.8 987.8 1667.2 991.1 1668.0 994.6C1668.8 998.2 1670.6 1003.3 1670.9 1007.0C1671.3 1010.8 1671.2 1016.4 1670.3 1019.4C1669.4 1022.4 1665.7 1025.9 1664.9 1027.0"/>
<path d="M1689.6 877.4C1690.1 878.8 1691.3 884.8 1692.8 886.5C1694.3 888.3 1697.0 887.7 1699.5 889.2C1702.1 890.8 1706.8 894.7 1709.7 896.7C1712.6 898.6 1716.2 900.8 1718.7 902.3C1721.2 903.8 1723.9 904.5 1726.6 906.8C1729.3 909.1 1733.2 915.3 1736.7 917.6C1740.3 920.0 1745.5 921.0 1750.2 922.6C1755.0 924.2 1764.1 926.9 1768.5 928.2C1772.9 929.6 1776.7 930.6 1779.8 931.6C1782.8 932.6 1786.4 933.4 1788.8 935.0C1791.1 936.5 1793.7 940.3 1795.5 941.7C1797.4 943.2 1799.7 944.8 1801.2 944.6C1802.7 944.5 1804.2 942.4 1805.7 940.6C1807.2 938.8 1809.4 934.6 1811.3 932.7C1813.2 930.9 1816.0 928.9 1818.1 928.2C1820.1 927.5 1822.5 927.9 1824.8 928.2C1827.2 928.5 1831.3 930.0 1833.8 930.5C1836.4 931.0 1840.7 931.3 1841.9 931.5"/>
<path d="M1668.2 1038.3C1669.5 1038.8 1674.2 1041.0 1677.0 1041.9C1679.9 1042.9 1684.3 1043.9 1687.2 1044.6C1690.0 1045.4 1694.3 1045.8 1696.2 1046.9C1698.0 1048.0 1698.2 1050.3 1699.5 1052.1C1700.9 1053.9 1703.0 1057.0 1705.2 1058.8C1707.4 1060.7 1711.1 1062.8 1714.2 1064.5C1717.2 1066.2 1722.6 1068.7 1725.5 1070.1C1728.3 1071.5 1731.3 1072.6 1733.3 1073.9C1735.4 1075.3 1738.1 1078.3 1739.0 1079.1"/>
<path d="M1857.6 925.8C1858.3 925.0 1861.8 922.5 1862.7 920.3C1863.6 918.2 1863.0 913.3 1863.6 911.3C1864.1 909.3 1864.9 907.4 1866.5 906.8C1868.1 906.2 1871.5 906.8 1874.4 907.3C1877.2 907.8 1881.6 909.5 1885.6 910.2C1889.7 910.9 1896.2 911.3 1901.4 911.8C1906.6 912.3 1917.2 912.5 1920.5 913.6C1923.9 914.7 1922.9 917.8 1923.9 919.2C1924.9 920.5 1926.1 922.7 1927.3 922.6C1928.5 922.4 1930.1 919.4 1931.8 918.1C1933.5 916.7 1937.0 915.4 1938.6 913.6C1940.1 911.7 1940.9 907.3 1941.9 905.7C1943.0 904.1 1943.6 902.9 1945.3 902.8C1947.0 902.7 1950.3 904.5 1953.2 905.0C1956.1 905.5 1961.1 906.3 1964.5 906.4C1967.8 906.5 1972.3 906.0 1975.7 905.7C1979.1 905.3 1984.9 904.8 1987.0 904.1C1989.1 903.4 1989.5 902.3 1989.9 901.2C1990.3 900.1 1989.9 897.4 1989.9 896.7"/>
<path d="M1857.7 939.5C1858.7 940.5 1863.0 943.7 1864.2 946.2C1865.4 948.8 1865.7 952.8 1865.8 956.4C1865.9 959.9 1865.3 965.8 1864.9 969.9C1864.5 973.9 1863.8 980.7 1863.1 983.4C1862.4 986.1 1861.2 986.5 1860.4 987.9C1859.6 989.2 1857.4 991.0 1857.5 992.4C1857.5 993.7 1859.3 995.4 1860.9 996.9C1862.4 998.4 1865.9 1000.2 1867.6 1002.5C1869.3 1004.9 1870.8 1010.0 1872.1 1012.7C1873.5 1015.4 1874.9 1018.7 1876.6 1020.5C1878.3 1022.4 1881.4 1023.9 1883.4 1025.1C1885.4 1026.2 1888.4 1026.6 1890.1 1028.0C1891.9 1029.3 1894.1 1031.8 1895.1 1034.1C1896.0 1036.3 1896.2 1041.7 1896.4 1043.1"/>
<path d="M1144.2 658.3C1144.3 660.0 1144.9 666.1 1145.2 669.3C1145.5 672.5 1145.8 677.0 1146.1 679.6C1146.4 682.1 1146.5 684.5 1147.1 686.2C1147.7 687.8 1148.9 689.7 1150.0 690.5C1151.1 691.4 1153.1 691.5 1154.4 691.6C1155.8 691.7 1157.6 690.6 1158.8 691.3C1160.0 692.0 1161.5 694.9 1162.5 696.4C1163.4 697.9 1164.6 699.9 1165.1 701.5C1165.7 703.2 1166.1 705.6 1166.2 707.4C1166.2 709.2 1166.0 711.7 1165.7 713.3C1165.4 714.8 1164.7 717.7 1164.0 717.7C1163.3 717.7 1161.9 714.5 1161.0 713.3C1160.1 712.1 1158.0 709.4 1157.8 709.6C1157.6 709.8 1159.2 713.2 1159.9 714.7C1160.6 716.3 1161.8 718.3 1162.5 719.9C1163.2 721.4 1163.6 724.3 1164.7 725.0C1165.8 725.6 1167.7 724.5 1169.8 724.2C1171.9 724.0 1176.2 723.4 1178.6 723.2C1181.0 723.0 1184.0 722.7 1185.9 722.8C1187.9 722.9 1190.5 723.0 1191.8 723.8C1193.1 724.6 1194.3 726.4 1194.7 727.9C1195.2 729.4 1194.9 731.8 1194.7 733.8C1194.5 735.8 1193.8 738.8 1193.3 741.1C1192.7 743.4 1191.5 746.6 1191.1 749.2C1190.6 751.7 1190.2 756.8 1190.1 758.2"/>
<path d="M1038.3 777.8C1038.6 778.1 1039.6 779.0 1040.5 780.0C1041.4 781.0 1042.9 783.3 1044.2 784.4C1045.5 785.5 1047.4 786.8 1049.3 787.3C1051.2 787.9 1054.4 788.1 1056.6 788.1C1058.8 788.0 1062.0 787.3 1064.0 787.0C1065.9 786.8 1068.1 786.1 1069.8 786.6C1071.6 787.1 1073.9 789.0 1075.7 790.3C1077.4 791.5 1079.9 793.2 1081.5 794.7C1083.2 796.1 1085.2 798.2 1086.7 799.8C1088.1 801.3 1090.0 803.7 1091.1 804.9C1092.2 806.2 1093.4 808.4 1094.0 808.1C1094.6 807.9 1094.7 804.6 1095.0 803.4C1095.3 802.3 1095.2 800.6 1095.9 800.5C1096.6 800.4 1098.3 801.7 1099.9 802.7C1101.4 803.7 1104.4 805.8 1106.4 807.1C1108.5 808.4 1111.8 810.5 1113.8 811.5C1115.8 812.5 1118.2 813.7 1119.6 813.7C1121.1 813.7 1122.4 812.6 1123.3 811.5C1124.2 810.4 1124.7 808.2 1125.5 806.4C1126.3 804.5 1127.2 801.0 1128.4 799.0C1129.6 797.1 1131.8 794.7 1133.6 793.2C1135.3 791.6 1138.1 789.9 1140.1 788.8C1142.2 787.6 1145.3 786.4 1147.5 785.6C1149.7 784.7 1153.2 783.4 1154.8 782.9C1156.4 782.5 1156.8 783.0 1157.8 782.7C1158.8 782.5 1160.7 781.9 1161.5 781.2C1162.3 780.6 1162.2 779.0 1163.0 778.3C1163.7 777.6 1165.3 776.7 1166.6 776.4C1167.9 776.1 1170.4 776.0 1171.8 776.4C1173.1 776.8 1173.9 779.5 1175.4 779.0C1176.9 778.6 1180.9 774.4 1181.8 773.6"/>
<path d="M1198.0 764.8C1199.3 764.5 1204.5 762.3 1206.4 762.3C1208.4 762.3 1209.6 764.2 1210.8 764.8C1212.1 765.5 1213.9 765.8 1214.5 766.7C1215.1 767.7 1214.7 770.3 1214.9 771.1C1215.2 772.0 1215.5 772.7 1216.0 772.6C1216.5 772.5 1217.9 771.4 1218.2 770.4C1218.5 769.4 1217.4 767.3 1217.9 766.0C1218.3 764.7 1219.7 763.0 1221.1 761.6C1222.5 760.2 1225.3 758.2 1227.0 756.9C1228.6 755.6 1231.0 754.2 1232.1 752.8C1233.2 751.4 1233.3 749.2 1234.3 747.7C1235.3 746.2 1237.5 744.1 1238.7 742.6C1239.9 741.0 1241.4 738.6 1242.3 737.4C1243.3 736.2 1244.1 734.2 1244.8 734.5C1245.6 734.8 1246.4 737.4 1247.5 739.6C1248.5 741.8 1250.4 745.9 1251.9 749.2C1253.3 752.5 1255.6 758.0 1257.0 761.6C1258.4 765.2 1260.1 769.8 1261.4 773.3C1262.7 776.8 1264.9 782.0 1265.8 785.1C1266.7 788.1 1267.3 792.2 1267.6 793.4"/>
<path d="M1184.8 775.9C1184.0 777.3 1180.7 783.0 1179.8 785.6C1178.9 788.3 1178.9 791.2 1178.6 793.7C1178.4 796.2 1178.2 800.1 1178.4 802.5C1178.5 804.9 1178.9 807.7 1179.8 809.8C1180.7 811.9 1182.7 814.9 1184.2 816.4C1185.8 817.9 1188.4 819.1 1190.1 820.1C1191.7 821.1 1195.0 821.9 1195.2 823.0C1195.4 824.1 1193.0 826.1 1191.5 827.4C1190.1 828.7 1187.9 830.4 1185.7 831.8C1183.5 833.2 1179.3 835.6 1176.9 836.9C1174.5 838.2 1170.8 839.5 1169.6 840.6C1168.3 841.7 1167.9 843.0 1168.4 844.2C1168.8 845.5 1170.8 847.7 1172.5 848.6C1174.2 849.6 1178.1 850.0 1179.8 850.5C1181.6 851.1 1183.7 851.3 1184.2 852.0C1184.8 852.7 1184.4 854.6 1183.5 855.2C1182.6 855.9 1180.2 856.1 1178.4 856.4C1176.5 856.7 1173.4 856.7 1171.0 857.0C1168.6 857.3 1164.9 857.6 1162.2 858.2C1159.6 858.8 1156.0 860.2 1153.4 861.1C1150.9 862.0 1146.7 863.0 1145.4 864.0C1144.0 865.0 1144.2 866.2 1144.4 867.7C1144.5 869.2 1145.4 872.4 1146.1 874.3C1146.8 876.2 1148.2 878.9 1149.0 880.1C1149.9 881.4 1150.8 882.3 1152.0 882.8C1153.2 883.2 1156.3 881.6 1157.1 883.1C1157.9 884.6 1157.4 891.3 1157.5 892.8"/>
<path d="M1273.1 793.9C1273.6 792.6 1275.9 788.5 1276.5 785.2C1277.0 781.8 1276.6 776.0 1276.8 771.4C1277.0 766.9 1277.4 759.7 1277.9 754.9C1278.3 750.2 1279.3 743.4 1279.9 739.8C1280.5 736.2 1281.3 732.5 1282.0 730.9C1282.7 729.3 1283.8 728.9 1284.7 729.1C1285.7 729.3 1287.1 730.5 1288.2 732.3C1289.2 734.1 1290.6 738.4 1291.6 741.2C1292.6 744.0 1294.0 748.6 1295.0 750.8C1296.1 753.1 1297.3 755.2 1298.5 756.3C1299.6 757.5 1301.4 758.6 1302.6 758.4C1303.7 758.2 1305.7 756.7 1306.0 754.9C1306.3 753.2 1305.3 749.2 1304.6 746.7C1304.0 744.2 1302.2 740.4 1301.9 738.5C1301.6 736.5 1302.1 734.3 1302.6 733.7C1303.1 733.0 1304.5 733.4 1305.3 734.3C1306.2 735.3 1307.1 737.8 1308.1 739.8C1309.0 741.9 1310.5 745.7 1311.5 748.1C1312.5 750.4 1314.0 753.8 1314.9 755.6C1315.9 757.5 1316.6 759.3 1317.7 760.4C1318.8 761.6 1321.2 762.4 1322.5 763.2C1323.8 764.0 1325.3 765.7 1326.6 765.7C1328.0 765.7 1330.1 764.2 1331.4 763.2C1332.8 762.2 1334.5 760.5 1335.5 759.1C1336.6 757.6 1337.8 755.6 1338.3 753.6C1338.8 751.5 1339.1 747.8 1339.0 745.3C1338.9 742.9 1338.1 739.5 1337.6 737.1C1337.1 734.7 1335.5 730.2 1335.5 729.5C1335.5 728.9 1336.9 731.4 1337.6 733.0C1338.3 734.5 1339.5 737.9 1340.4 739.8C1341.2 741.8 1342.4 744.5 1343.1 746.0C1343.8 747.6 1344.3 748.3 1345.2 750.1C1346.0 752.0 1348.2 757.1 1348.7 758.4"/>
<path d="M1379.5 661.4C1379.8 662.4 1380.9 666.1 1381.8 668.6C1382.6 671.0 1384.8 675.2 1385.1 677.6C1385.5 679.9 1384.7 682.6 1384.0 684.3C1383.3 686.1 1380.5 687.8 1380.6 689.3C1380.8 690.8 1383.6 692.8 1385.1 694.5C1386.7 696.1 1389.7 698.4 1390.8 700.1C1391.9 701.7 1392.7 704.0 1392.6 705.5C1392.4 707.0 1391.0 709.2 1389.8 710.3C1388.6 711.4 1386.3 712.3 1384.3 712.6C1382.4 712.9 1379.3 712.6 1376.8 712.4C1374.2 712.1 1369.8 711.4 1367.1 711.0C1364.5 710.5 1360.9 709.6 1358.9 709.3C1356.9 709.0 1354.5 708.7 1354.1 708.9C1353.7 709.2 1355.0 710.3 1356.2 711.0C1357.3 711.7 1360.4 712.7 1361.6 713.7C1362.9 714.8 1363.9 716.4 1364.4 717.9C1364.9 719.3 1365.2 721.8 1365.1 723.4C1365.0 724.9 1364.3 727.0 1363.7 728.2C1363.1 729.3 1362.1 730.3 1361.0 730.9C1359.8 731.5 1357.1 731.8 1356.2 732.3C1355.2 732.8 1354.8 733.2 1354.8 734.3C1354.8 735.5 1355.8 738.2 1356.2 739.8C1356.5 741.5 1357.0 743.9 1357.3 745.3C1357.5 746.8 1357.9 747.6 1357.5 749.5C1357.2 751.3 1355.4 756.7 1355.0 758.0"/>
<path d="M1354.1 776.2C1354.4 777.7 1355.6 783.3 1355.9 785.9C1356.2 788.4 1355.9 791.2 1356.2 793.4C1356.4 795.6 1356.9 798.2 1357.3 800.3C1357.6 802.4 1357.6 805.7 1358.2 807.3C1358.8 808.9 1360.0 810.8 1361.1 811.0C1362.2 811.2 1364.5 809.6 1365.5 808.8C1366.6 808.0 1367.9 805.2 1368.2 805.9C1368.4 806.5 1367.5 811.0 1367.0 813.2C1366.5 815.4 1365.7 819.0 1364.8 820.5C1363.9 822.1 1362.3 822.6 1361.1 823.4C1359.9 824.3 1357.5 825.3 1356.7 826.4C1356.0 827.5 1355.5 829.7 1356.0 830.8C1356.4 831.8 1358.2 832.9 1359.7 833.4C1361.1 834.0 1364.0 834.1 1365.5 834.4C1367.1 834.8 1369.2 835.1 1369.9 835.9C1370.6 836.7 1370.6 838.5 1370.2 839.6C1369.8 840.7 1367.4 842.0 1367.0 843.2C1366.6 844.4 1366.9 846.5 1367.7 847.6C1368.5 848.7 1370.0 849.9 1372.1 850.5C1374.2 851.2 1380.2 852.0 1381.6 852.2"/>
<path d="M1400.0 851.4C1401.3 851.1 1406.7 850.0 1408.7 849.1C1410.8 848.2 1412.7 846.3 1413.9 845.4C1415.1 844.5 1416.4 843.6 1416.8 843.2"/>
<path d="M1421.9 849.5C1421.3 848.8 1418.6 846.3 1417.5 844.7C1416.5 843.1 1415.3 840.6 1415.0 838.8C1414.8 837.1 1415.2 834.3 1416.1 833.0C1416.9 831.6 1419.0 830.7 1420.5 830.0C1421.9 829.4 1424.2 828.5 1425.6 828.6C1427.0 828.7 1428.8 829.6 1430.0 830.8C1431.2 832.0 1432.5 834.9 1433.6 836.6C1434.7 838.4 1436.1 841.7 1437.3 842.5C1438.5 843.3 1440.2 842.0 1441.7 842.2C1443.2 842.4 1445.8 843.3 1447.6 844.0C1449.3 844.7 1451.7 846.2 1453.4 846.9C1455.2 847.6 1458.0 848.6 1459.3 848.6C1460.6 848.6 1461.4 847.8 1462.2 846.9C1463.0 846.0 1463.3 843.2 1464.4 842.5C1465.5 841.8 1467.7 842.3 1469.5 842.5C1471.4 842.7 1474.5 843.5 1476.9 843.7C1479.3 843.8 1484.3 843.7 1485.7 843.7"/>
<path d="M1270.9 811.9C1271.1 813.2 1271.3 818.9 1272.1 820.8C1273.0 822.7 1275.1 823.2 1276.5 824.5C1277.9 825.8 1280.3 828.1 1281.6 829.6C1283.0 831.1 1284.8 833.3 1285.3 834.7C1285.9 836.2 1286.0 838.3 1285.3 839.1C1284.7 840.0 1282.2 840.1 1280.9 840.3C1279.6 840.5 1277.5 839.8 1276.5 840.3C1275.5 840.8 1274.4 842.3 1274.3 843.5C1274.2 844.8 1274.8 847.5 1275.8 848.6C1276.8 849.8 1279.3 850.5 1280.9 851.1C1282.5 851.8 1285.8 852.3 1286.5 853.0C1287.1 853.8 1286.4 855.1 1285.3 856.0C1284.3 856.8 1281.6 857.9 1279.5 858.9C1277.3 859.9 1273.2 861.5 1270.7 862.6C1268.1 863.7 1264.0 865.2 1262.6 866.2C1261.2 867.2 1261.2 868.4 1261.1 869.2C1261.0 869.9 1261.6 869.9 1261.9 871.4C1262.1 872.9 1262.7 878.0 1262.9 879.2"/>
<path d="M1034.7 898.7C1035.5 898.4 1038.9 897.5 1040.5 896.5C1042.2 895.5 1044.3 894.0 1045.6 892.1C1047.0 890.2 1048.2 886.0 1049.3 884.0C1050.4 882.1 1051.9 879.8 1053.0 878.9C1054.1 878.0 1055.8 877.5 1056.6 877.9C1057.5 878.2 1058.4 879.5 1058.8 881.1C1059.3 882.7 1058.6 886.4 1059.6 888.4C1060.5 890.4 1063.7 892.4 1065.4 894.3C1067.2 896.2 1069.6 898.7 1071.3 900.9C1072.9 903.1 1075.1 906.4 1076.4 908.9C1077.7 911.5 1078.9 915.2 1080.1 917.7C1081.3 920.3 1083.0 923.8 1084.5 925.8C1085.9 927.8 1087.9 929.9 1089.6 930.9C1091.2 931.9 1094.0 932.9 1095.5 932.7C1096.9 932.5 1098.5 931.3 1099.1 929.5C1099.8 927.6 1100.0 923.5 1099.9 920.7C1099.7 917.8 1098.7 912.9 1098.4 910.4C1098.1 907.9 1097.3 904.6 1097.7 903.8C1098.0 903.0 1099.3 904.2 1100.6 905.3C1101.9 906.4 1104.7 909.3 1106.4 911.1C1108.2 913.0 1110.9 916.8 1112.3 917.7C1113.7 918.6 1114.9 918.0 1116.0 917.0C1117.1 916.0 1118.5 912.5 1119.6 911.1C1120.7 909.8 1121.5 908.8 1123.3 908.2C1125.1 907.7 1128.9 907.6 1131.4 907.5C1133.8 907.3 1136.8 907.6 1139.4 907.2C1142.0 906.8 1147.3 905.0 1148.7 904.7"/>
<path d="M1254.7 888.7C1253.6 888.8 1248.8 889.2 1247.2 888.9C1245.7 888.6 1245.5 887.3 1244.3 886.7C1243.1 886.2 1239.8 885.2 1239.2 885.3C1238.5 885.4 1239.2 886.5 1239.9 887.5C1240.5 888.5 1242.6 890.5 1243.6 891.9C1244.5 893.2 1245.6 894.9 1246.5 896.3C1247.4 897.6 1249.3 899.7 1249.4 900.7C1249.5 901.6 1248.4 902.2 1247.2 902.9C1246.0 903.5 1243.1 904.5 1241.4 905.1C1239.6 905.6 1237.3 906.0 1235.5 906.5C1233.7 907.0 1230.8 907.6 1229.6 908.3C1228.4 908.9 1227.9 910.0 1227.4 910.9C1227.0 911.9 1226.9 913.6 1226.7 914.6C1226.5 915.6 1226.4 917.4 1226.0 917.5C1225.5 917.6 1224.8 916.2 1223.8 915.3C1222.8 914.4 1220.9 912.7 1219.4 911.6C1217.8 910.5 1215.3 909.0 1213.5 908.0C1211.8 907.0 1209.1 905.6 1207.7 905.1C1206.2 904.5 1204.9 904.1 1204.0 904.3C1203.1 904.5 1202.2 905.3 1201.8 906.5C1201.4 907.7 1201.2 910.3 1201.1 912.4C1201.0 914.5 1201.0 917.9 1201.1 920.5C1201.1 923.2 1201.8 927.4 1201.5 930.0C1201.2 932.7 1199.6 936.8 1199.2 938.1"/>
<path d="M1267.4 897.3C1268.0 898.7 1269.7 904.4 1271.0 906.6C1272.3 908.8 1274.5 910.3 1276.1 911.7C1277.8 913.2 1280.2 915.2 1282.0 916.1C1283.7 917.0 1285.6 917.5 1287.8 917.6C1290.0 917.6 1294.0 916.7 1296.6 916.4C1299.3 916.1 1303.2 915.7 1305.4 915.8C1307.6 916.0 1309.6 915.9 1311.3 917.3C1313.0 918.6 1315.8 923.7 1316.6 924.8"/>
<path d="M1162.9 910.1C1163.6 911.4 1166.4 916.4 1168.1 918.3C1169.8 920.2 1172.4 921.2 1174.0 922.7C1175.5 924.2 1177.0 926.6 1178.4 928.6C1179.7 930.5 1181.1 934.0 1182.7 935.9C1184.4 937.8 1188.4 940.4 1189.4 941.2"/>
<path d="M1194.0 956.1C1193.6 957.5 1192.1 963.2 1191.2 965.2C1190.4 967.2 1189.9 968.6 1188.6 969.6C1187.3 970.6 1184.9 971.6 1182.7 972.1C1180.5 972.5 1176.6 972.4 1174.0 972.5C1171.3 972.7 1167.3 972.6 1165.2 973.0C1163.1 973.3 1160.9 973.9 1160.0 974.7C1159.2 975.5 1158.9 977.2 1159.3 978.4C1159.7 979.6 1161.2 981.4 1163.0 982.8C1164.7 984.2 1168.5 986.6 1171.0 987.9C1173.6 989.2 1177.5 990.7 1179.8 991.6C1182.1 992.5 1185.5 992.6 1186.4 993.8C1187.3 995.0 1185.6 997.9 1185.7 999.6C1185.8 1001.4 1186.6 1003.8 1187.1 1005.5C1187.7 1007.1 1188.4 1008.6 1189.3 1010.6C1190.3 1012.6 1192.7 1017.5 1193.3 1018.7"/>
<path d="M1188.0 1026.3C1186.8 1026.1 1182.5 1025.6 1179.8 1025.4C1177.1 1025.3 1172.7 1025.4 1170.2 1025.4C1167.7 1025.5 1163.8 1025.3 1163.0 1025.8C1162.3 1026.2 1164.2 1027.6 1165.4 1028.6C1166.6 1029.7 1169.5 1031.2 1171.0 1032.6C1172.6 1034.1 1174.6 1036.5 1175.8 1038.2C1177.0 1039.9 1178.6 1042.2 1179.0 1043.8C1179.4 1045.3 1179.0 1047.7 1178.2 1048.6C1177.4 1049.4 1175.6 1049.1 1173.4 1049.4C1171.3 1049.6 1167.2 1049.9 1163.8 1050.2C1160.5 1050.4 1154.7 1050.8 1151.1 1051.0C1147.5 1051.1 1142.3 1051.1 1139.9 1051.0C1137.5 1050.8 1135.8 1050.3 1135.1 1050.2"/>
<path d="M1205.6 1031.8C1206.9 1032.5 1211.5 1035.8 1214.1 1036.6C1216.7 1037.4 1220.4 1036.7 1222.9 1036.9C1225.4 1037.2 1228.2 1037.6 1230.9 1038.2C1233.5 1038.8 1237.6 1039.9 1240.4 1040.6C1243.3 1041.3 1247.4 1042.4 1250.0 1043.0C1252.6 1043.6 1255.6 1044.7 1258.0 1044.6C1260.4 1044.5 1263.6 1042.7 1266.0 1042.2C1268.4 1041.7 1271.6 1041.6 1274.0 1041.4C1276.3 1041.2 1280.4 1041.1 1281.9 1040.6C1283.5 1040.1 1283.8 1039.2 1284.3 1038.2C1284.8 1037.2 1284.0 1034.9 1285.1 1034.2C1286.2 1033.5 1289.1 1033.7 1291.5 1033.4C1293.9 1033.2 1298.2 1032.7 1301.1 1032.6C1304.0 1032.5 1308.0 1032.4 1310.7 1032.6C1313.3 1032.9 1316.2 1033.6 1318.6 1034.2C1321.0 1034.8 1324.2 1035.9 1326.6 1036.6C1329.0 1037.3 1332.7 1038.4 1334.6 1039.0C1336.5 1039.6 1338.2 1040.7 1339.4 1040.6C1340.5 1040.5 1342.0 1039.5 1342.3 1038.2C1342.5 1036.9 1341.7 1033.7 1341.0 1031.8C1340.3 1029.9 1339.0 1027.3 1337.8 1025.4C1336.6 1023.5 1334.4 1021.0 1333.0 1019.0C1331.6 1017.1 1329.4 1014.5 1328.2 1012.7C1327.1 1010.9 1325.6 1008.8 1325.3 1007.1C1325.1 1005.4 1325.6 1002.6 1326.6 1001.5C1327.6 1000.4 1330.3 1000.1 1332.2 999.9C1334.1 999.7 1337.2 999.9 1339.4 1000.2C1341.5 1000.5 1344.2 1002.0 1346.6 1001.8C1348.9 1001.7 1353.7 999.6 1355.0 999.2"/>
<path d="M1367.0 1005.4C1367.5 1006.7 1369.4 1011.5 1370.0 1014.3C1370.7 1017.0 1370.9 1021.2 1371.3 1023.8C1371.7 1026.5 1372.3 1029.5 1372.9 1031.8C1373.5 1034.1 1374.3 1037.4 1375.3 1039.0C1376.3 1040.6 1377.7 1041.8 1379.3 1042.2C1380.8 1042.5 1384.1 1041.9 1385.7 1041.4C1387.2 1040.8 1389.1 1038.9 1389.7 1038.5"/>
<path d="M1328.5 939.3C1330.1 941.0 1338.4 948.6 1339.1 950.5C1339.8 952.5 1335.2 951.8 1333.3 952.5C1331.3 953.1 1328.4 954.2 1325.9 954.9C1323.5 955.6 1319.3 956.5 1317.1 957.1C1314.9 957.8 1312.6 958.4 1311.3 959.3C1310.0 960.3 1308.8 962.1 1308.6 963.7C1308.5 965.4 1309.7 968.5 1310.5 970.3C1311.4 972.2 1312.8 974.8 1314.2 976.2C1315.6 977.6 1318.1 978.9 1320.1 979.9C1322.1 980.8 1325.2 982.0 1327.4 982.8C1329.6 983.6 1332.5 984.5 1334.7 985.0C1336.9 985.4 1340.0 985.5 1342.1 985.7C1344.1 985.9 1346.5 985.6 1348.6 986.4C1350.8 987.3 1355.0 990.6 1356.1 991.4"/>
<path d="M1329.6 927.0C1330.8 926.1 1335.8 921.7 1337.7 921.2C1339.5 920.8 1341.1 923.8 1342.1 924.2C1343.0 924.5 1343.9 924.4 1344.2 923.4C1344.6 922.5 1343.9 919.1 1344.2 917.6C1344.6 916.0 1345.6 913.7 1346.4 913.2C1347.3 912.6 1348.8 913.0 1350.1 913.9C1351.4 914.8 1353.4 917.6 1355.2 919.0C1357.1 920.5 1360.6 922.2 1362.6 923.4C1364.5 924.7 1367.4 927.1 1368.4 927.1C1369.4 927.1 1369.4 924.9 1369.2 923.4C1368.9 922.0 1367.6 919.1 1367.0 917.6C1366.4 916.0 1365.2 913.9 1365.2 913.2C1365.2 912.5 1365.8 912.2 1367.0 912.9C1368.1 913.6 1370.6 916.3 1372.8 917.6C1375.0 918.8 1380.2 921.5 1381.6 921.2C1383.0 921.0 1381.9 917.5 1382.3 916.1C1382.8 914.7 1383.6 912.6 1384.5 911.7C1385.5 910.8 1387.6 910.8 1388.9 910.3C1390.3 909.7 1392.6 909.2 1393.3 908.1C1394.1 906.9 1393.6 903.7 1394.1 902.6C1394.5 901.4 1395.1 900.5 1396.3 900.4C1397.5 900.3 1400.7 901.5 1402.1 901.8C1403.6 902.2 1405.3 902.5 1405.8 902.6"/>
<path d="M1391.4 863.2C1391.5 864.6 1391.4 870.6 1391.9 872.5C1392.4 874.5 1393.5 875.4 1394.8 876.2C1396.1 877.0 1399.1 877.1 1400.7 877.7C1402.2 878.2 1404.1 878.5 1405.1 879.9C1406.1 881.2 1406.7 884.4 1407.3 886.4C1407.8 888.5 1408.5 891.8 1408.7 893.8C1409.0 895.8 1409.2 898.3 1408.7 899.6C1408.3 901.0 1406.1 901.2 1405.8 902.6C1405.5 903.9 1406.0 906.9 1406.5 908.4C1407.1 910.0 1407.9 911.9 1409.5 912.8C1411.0 913.7 1414.4 913.7 1416.8 914.3C1419.2 914.8 1423.3 915.8 1425.6 916.5C1427.9 917.1 1431.3 917.5 1432.2 918.7C1433.1 919.9 1431.9 922.6 1431.4 924.5C1431.0 926.5 1429.8 929.9 1429.2 931.9C1428.7 933.8 1427.5 936.3 1427.8 937.7C1428.1 939.2 1429.6 940.7 1431.4 941.4C1433.3 942.1 1437.4 942.0 1440.2 942.1C1443.1 942.2 1448.0 942.0 1450.5 942.1C1453.0 942.2 1455.9 942.2 1457.1 942.9C1458.3 943.5 1457.9 945.5 1458.6 946.5C1459.2 947.6 1460.5 949.2 1461.5 949.7C1462.5 950.3 1464.6 950.1 1465.1 950.2"/>
</g>
<g fill="url(#ball)">
<circle cx="207.2" cy="660.5" r="18.4"/>
<circle cx="241" cy="721.5" r="18.4"/>
<circle cx="372.3" cy="714.7" r="18.4"/>
<circle cx="104.2" cy="747.2" r="18.4"/>
<circle cx="208.8" cy="781.6" r="18.4"/>
<circle cx="89.6" cy="838.1" r="18.4"/>
<circle cx="251.9" cy="851.8" r="18.4"/>
<circle cx="357.3" cy="836.4" r="18.4"/>
<circle cx="406.2" cy="854.5" r="18.4"/>
<circle cx="131.5" cy="901.8" r="18.4"/>
<circle cx="124.9" cy="977.7" r="18.4"/>
<circle cx="293.4" cy="981.5" r="18.4"/>
<circle cx="188.5" cy="1031.7" r="18.4"/>
<circle cx="685.9" cy="731.7" r="18.4"/>
<circle cx="795.2" cy="786.2" r="18.4"/>
<circle cx="896.5" cy="728.1" r="18.4"/>
<circle cx="663.3" cy="867.9" r="18.4"/>
<circle cx="714.9" cy="954.2" r="18.4"/>
<circle cx="832.3" cy="906.2" r="18.4"/>
<circle cx="930.3" cy="922.6" r="18.4"/>
<circle cx="1793.3" cy="695" r="18.4"/>
<circle cx="1921.2" cy="798.6" r="18.4"/>
<circle cx="1686.5" cy="869" r="18.4"/>
<circle cx="1659.5" cy="1035.2" r="18.4"/>
<circle cx="1851.2" cy="933.2" r="18.4"/>
<circle cx="1189" cy="768" r="18.4"/>
<circle cx="1269.6" cy="803.1" r="18.4"/>
<circle cx="1352.4" cy="767.5" r="18.4"/>
<circle cx="1390.9" cy="854.3" r="18.4"/>
<circle cx="1157.8" cy="902.7" r="18.4"/>
<circle cx="1264.1" cy="889" r="18.4"/>
<circle cx="1196.7" cy="947.6" r="18.4"/>
<circle cx="1322" cy="933" r="18.4"/>
<circle cx="1364" cy="997" r="18.4"/>
<circle cx="1197.4" cy="1027.7" r="18.4"/>
</g>
<g fill="none" stroke="#e46c0a" stroke-width="6.1">
<ellipse cx="237.6" cy="854.75" rx="231.6" ry="231.35"/>
<ellipse cx="745.8" cy="852.4" rx="229.8" ry="231.5"/>
<ellipse cx="1768.9" cy="853.65" rx="229.8" ry="231.45"/>
<ellipse cx="1257.75" cy="853.65" rx="231.25" ry="231.45"/>
</g>
</g>
</g>
</svg>
</body>
</html>
